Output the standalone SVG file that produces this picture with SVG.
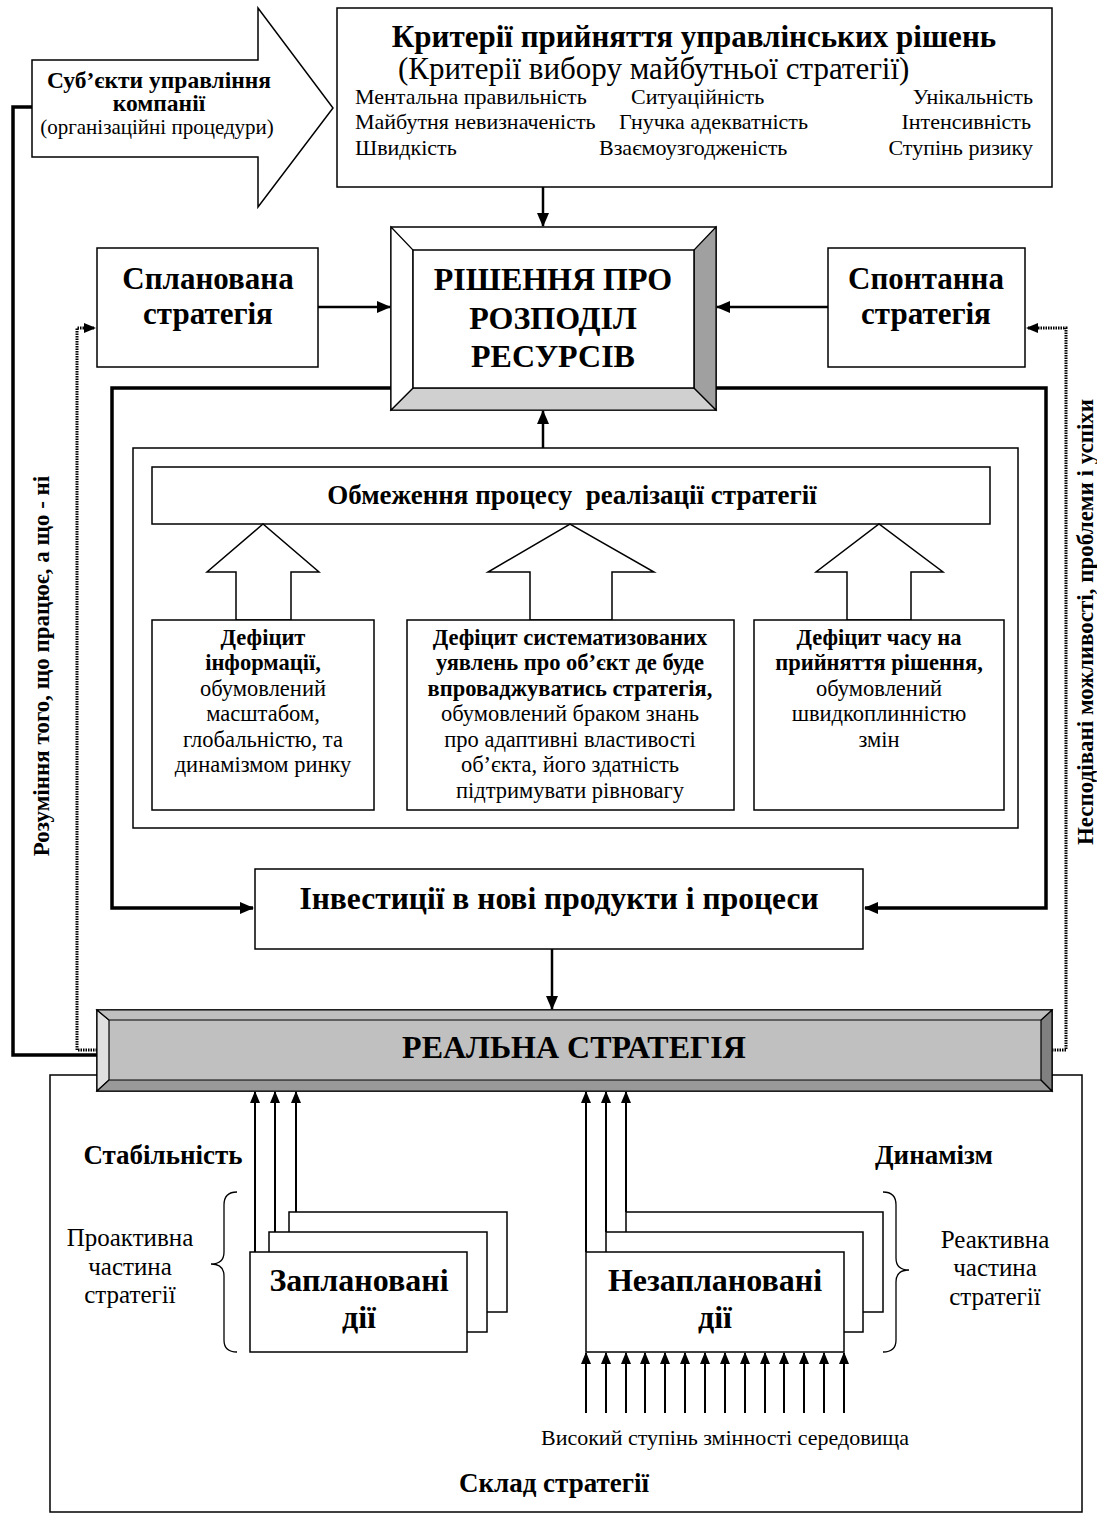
<svg xmlns="http://www.w3.org/2000/svg" width="1097" height="1528" viewBox="0 0 1097 1528">
<style>
text{font-family:"Liberation Serif","Times New Roman",serif;fill:#000}
.b{font-weight:bold}
.c{text-anchor:middle}
.box{fill:#fff;stroke:#000;stroke-width:1.5}
.thin{fill:none;stroke:#000;stroke-width:1.3}
.thick{fill:none;stroke:#000;stroke-width:3.5}
.dot{fill:none;stroke:#000;stroke-width:3;stroke-dasharray:1.5 1}
.arr{fill:none;stroke:#000;stroke-width:2.5}
.sarr{fill:none;stroke:#000;stroke-width:2}
</style>
<defs>
<marker id="ah" markerUnits="userSpaceOnUse" markerWidth="14" markerHeight="12" refX="13" refY="6" orient="auto"><path d="M0,0 L14,6 L0,12 z" fill="#000"/></marker>
<marker id="sh" markerUnits="userSpaceOnUse" markerWidth="12" markerHeight="10" refX="11" refY="5" orient="auto"><path d="M0,0 L12,5 L0,10 z" fill="#000"/></marker>
</defs>

<g id="bottom-container">
<rect x="50" y="1075" width="1032" height="437" class="box"/>
</g>

<g id="connectors">
<polyline class="thick" points="33,107 13,107 13,1055 97,1055"/>
<polyline class="dot" points="97,1050 77,1050 77,328 95,328" marker-end="url(#sh)"/>
<polyline class="dot" points="1052,1050 1066,1050 1066,328 1027,328" marker-end="url(#sh)"/>
<line class="arr" x1="543" y1="187" x2="543" y2="226" marker-end="url(#ah)"/>
<line class="arr" x1="318" y1="307" x2="390" y2="307" marker-end="url(#ah)"/>
<line class="arr" x1="828" y1="307" x2="717" y2="307" marker-end="url(#ah)"/>
<polyline class="thick" points="391,388 112,388 112,908 253,908" marker-end="url(#ah)"/>
<polyline class="thick" points="716,388 1046,388 1046,908 865,908" marker-end="url(#ah)"/>
<line class="arr" x1="543" y1="448" x2="543" y2="411" marker-end="url(#ah)"/>
<line class="arr" x1="552" y1="949" x2="552" y2="1009" marker-end="url(#ah)"/>
<line class="sarr" x1="255" y1="1252" x2="255" y2="1092" marker-end="url(#sh)"/>
<line class="sarr" x1="275" y1="1232" x2="275" y2="1092" marker-end="url(#sh)"/>
<line class="sarr" x1="296" y1="1212" x2="296" y2="1092" marker-end="url(#sh)"/>
<line class="sarr" x1="586" y1="1252" x2="586" y2="1092" marker-end="url(#sh)"/>
<line class="sarr" x1="606" y1="1232" x2="606" y2="1092" marker-end="url(#sh)"/>
<line class="sarr" x1="626" y1="1212" x2="626" y2="1092" marker-end="url(#sh)"/>
</g>

<g id="subjects">
<polygon points="32,60 258,60 258,8 333,108 258,207 258,157 32,157" class="box"/>
<text x="159" y="88" class="b c" font-size="23.5">Суб’єкти управління</text>
<text x="159" y="111" class="b c" font-size="23.5">компанії</text>
<text x="157" y="134" class="c" font-size="21">(організаційні процедури)</text>
</g>

<g id="criteria">
<rect x="337" y="8" width="715" height="179" class="box"/>
<text x="694" y="47" class="b c" font-size="31">Критерії прийняття управлінських рішень</text>
<text x="398" y="79" font-size="31">(Критерії вибору майбутньої стратегії)</text>
<text x="355" y="104" font-size="22">Ментальна правильність</text>
<text x="631" y="104" font-size="22">Ситуаційність</text>
<text x="1033" y="104" font-size="22" text-anchor="end">Унікальність</text>
<text x="355" y="129" font-size="22">Майбутня невизначеність</text>
<text x="619" y="129" font-size="22">Гнучка адекватність</text>
<text x="1031" y="129" font-size="22" text-anchor="end">Інтенсивність</text>
<text x="355" y="155" font-size="22">Швидкість</text>
<text x="599" y="155" font-size="22">Взаємоузгодженість</text>
<text x="1033" y="155" font-size="22" text-anchor="end">Ступінь ризику</text>
</g>

<g id="decision">
<rect x="391" y="227" width="325" height="183" fill="#fff" stroke="#000" stroke-width="1.5"/>
<polygon points="391,410 413,388 694,388 716,410" fill="#d0d0d0" stroke="#000" stroke-width="1.2"/>
<polygon points="716,227 694,250 694,388 716,410" fill="#a0a0a0" stroke="#000" stroke-width="1.2"/>
<polygon points="391,227 413,250 413,388 391,410" fill="#fff" stroke="#000" stroke-width="1.2"/>
<rect x="413" y="250" width="281" height="138" fill="#fff" stroke="#000" stroke-width="1.5"/>
<text x="553" y="290" class="b c" font-size="32">РІШЕННЯ ПРО</text>
<text x="553" y="329" class="b c" font-size="32">РОЗПОДІЛ</text>
<text x="553" y="367" class="b c" font-size="32">РЕСУРСІВ</text>
</g>

<g id="planned-strategy">
<rect x="97" y="248" width="221" height="119" class="box"/>
<text x="208" y="289" class="b c" font-size="31">Спланована</text>
<text x="208" y="324" class="b c" font-size="31">стратегія</text>
</g>

<g id="spontaneous-strategy">
<rect x="828" y="248" width="197" height="119" class="box"/>
<text x="926" y="289" class="b c" font-size="31">Спонтанна</text>
<text x="926" y="324" class="b c" font-size="31">стратегія</text>
</g>

<g id="constraints-container">
<rect x="133" y="448" width="885" height="380" class="box"/>
</g>

<g id="constraints">
<rect x="152" y="467" width="838" height="57" class="box"/>
<text x="572" y="504" class="b c" font-size="27" xml:space="preserve">Обмеження процесу  реалізації стратегії</text>
</g>

<g id="deficit-info">
<polygon points="236,620 236,572 207,572 263,524 319,572 291,572 291,620" class="box"/>
<rect x="152" y="620" width="222" height="190" class="box"/>
<text x="263" y="645" class="b c" font-size="22.5">Дефіцит</text>
<text x="263" y="670" class="b c" font-size="22.5">інформації,</text>
<text x="263" y="696" class="c" font-size="22.5">обумовлений</text>
<text x="263" y="721" class="c" font-size="22.5">масштабом,</text>
<text x="263" y="747" class="c" font-size="22.5">глобальністю, та</text>
<text x="263" y="772" class="c" font-size="22.5">динамізмом ринку</text>
</g>

<g id="deficit-system">
<polygon points="530,620 530,572 488,572 570,524 654,572 612,572 612,620" class="box"/>
<rect x="407" y="620" width="327" height="190" class="box"/>
<text x="570" y="645" class="b c" font-size="22.5">Дефіцит систематизованих</text>
<text x="570" y="670" class="b c" font-size="22.5">уявлень про об’єкт де буде</text>
<text x="570" y="696" class="b c" font-size="22.5">впроваджуватись стратегія,</text>
<text x="570" y="721" class="c" font-size="22.5">обумовлений браком знань</text>
<text x="570" y="747" class="c" font-size="22.5">про адаптивні властивості</text>
<text x="570" y="772" class="c" font-size="22.5">об’єкта, його здатність</text>
<text x="570" y="798" class="c" font-size="22.5">підтримувати рівновагу</text>
</g>

<g id="deficit-time">
<polygon points="847,620 847,572 816,572 879,524 943,572 911,572 911,620" class="box"/>
<rect x="754" y="620" width="250" height="190" class="box"/>
<text x="879" y="645" class="b c" font-size="22.5">Дефіцит часу на</text>
<text x="879" y="670" class="b c" font-size="22.5">прийняття рішення,</text>
<text x="879" y="696" class="c" font-size="22.5">обумовлений</text>
<text x="879" y="721" class="c" font-size="22.5">швидкоплинністю</text>
<text x="879" y="747" class="c" font-size="22.5">змін</text>
</g>

<g id="investments">
<rect x="255" y="869" width="608" height="80" class="box"/>
<text x="559" y="909" class="b c" font-size="31.5">Інвестиції в нові продукти і процеси</text>
</g>

<g id="real-strategy">
<rect x="97" y="1010" width="955" height="81" fill="#c0c0c0" stroke="#000" stroke-width="1.5"/>
<polygon points="97,1010 109,1020 109,1080 97,1091" fill="#e0e0e0" stroke="#000" stroke-width="1.2"/>
<polygon points="97,1091 109,1080 1041,1080 1052,1091" fill="#999" stroke="#000" stroke-width="1.2"/>
<polygon points="1052,1010 1041,1020 1041,1080 1052,1091" fill="#808080" stroke="#000" stroke-width="1.2"/>
<polygon points="97,1010 109,1020 1041,1020 1052,1010" fill="#c0c0c0" stroke="#000" stroke-width="1.2"/>
<text x="574" y="1058" class="b c" font-size="32">РЕАЛЬНА СТРАТЕГІЯ</text>
</g>

<g id="side-labels">
<text transform="translate(49,666) rotate(-90)" class="b c" font-size="23">Розуміння того, що працює, а що - ні</text>
<text transform="translate(1093,622) rotate(-90)" class="b c" font-size="23">Несподівані можливості, проблеми і успіхи</text>
</g>

<g id="planned-actions">
<rect x="289" y="1212" width="218" height="100" class="box"/>
<rect x="269" y="1232" width="218" height="100" class="box"/>
<rect x="250" y="1252" width="217" height="100" class="box"/>
<text x="359" y="1291" class="b c" font-size="32">Заплановані</text>
<text x="359" y="1328" class="b c" font-size="32">дії</text>
</g>

<g id="unplanned-actions">
<rect x="626" y="1212" width="257" height="100" class="box"/>
<rect x="606" y="1232" width="257" height="100" class="box"/>
<rect x="586" y="1252" width="258" height="100" class="box"/>
<text x="715" y="1291" class="b c" font-size="32">Незаплановані</text>
<text x="715" y="1328" class="b c" font-size="32">дії</text>
</g>

<g id="env-arrows">
<line class="sarr" x1="586" y1="1413" x2="586" y2="1353" marker-end="url(#sh)"/>
<line class="sarr" x1="606" y1="1413" x2="606" y2="1353" marker-end="url(#sh)"/>
<line class="sarr" x1="626" y1="1413" x2="626" y2="1353" marker-end="url(#sh)"/>
<line class="sarr" x1="645" y1="1413" x2="645" y2="1353" marker-end="url(#sh)"/>
<line class="sarr" x1="665" y1="1413" x2="665" y2="1353" marker-end="url(#sh)"/>
<line class="sarr" x1="685" y1="1413" x2="685" y2="1353" marker-end="url(#sh)"/>
<line class="sarr" x1="705" y1="1413" x2="705" y2="1353" marker-end="url(#sh)"/>
<line class="sarr" x1="725" y1="1413" x2="725" y2="1353" marker-end="url(#sh)"/>
<line class="sarr" x1="745" y1="1413" x2="745" y2="1353" marker-end="url(#sh)"/>
<line class="sarr" x1="765" y1="1413" x2="765" y2="1353" marker-end="url(#sh)"/>
<line class="sarr" x1="784" y1="1413" x2="784" y2="1353" marker-end="url(#sh)"/>
<line class="sarr" x1="804" y1="1413" x2="804" y2="1353" marker-end="url(#sh)"/>
<line class="sarr" x1="824" y1="1413" x2="824" y2="1353" marker-end="url(#sh)"/>
<line class="sarr" x1="844" y1="1413" x2="844" y2="1353" marker-end="url(#sh)"/>
</g>

<g id="labels-bottom">
<text x="163" y="1164" class="b c" font-size="27">Стабільність</text>
<text x="934" y="1164" class="b c" font-size="27">Динамізм</text>
<path class="thin" d="M237,1192 Q224,1192 224,1205 L224,1252 Q224,1264 211,1264 Q224,1264 224,1276 L224,1340 Q224,1352 237,1352"/>
<path class="thin" d="M883,1192 Q896,1192 896,1205 L896,1258 Q896,1270 909,1270 Q896,1270 896,1282 L896,1340 Q896,1352 883,1352"/>
<text x="130" y="1246" class="c" font-size="25">Проактивна</text>
<text x="130" y="1275" class="c" font-size="25">частина</text>
<text x="130" y="1303" class="c" font-size="25">стратегії</text>
<text x="995" y="1248" class="c" font-size="25">Реактивна</text>
<text x="995" y="1276" class="c" font-size="25">частина</text>
<text x="995" y="1305" class="c" font-size="25">стратегії</text>
<text x="725" y="1445" class="c" font-size="22">Високий ступінь змінності середовища</text>
<text x="554" y="1492" class="b c" font-size="27">Склад стратегії</text>
</g>
</svg>
